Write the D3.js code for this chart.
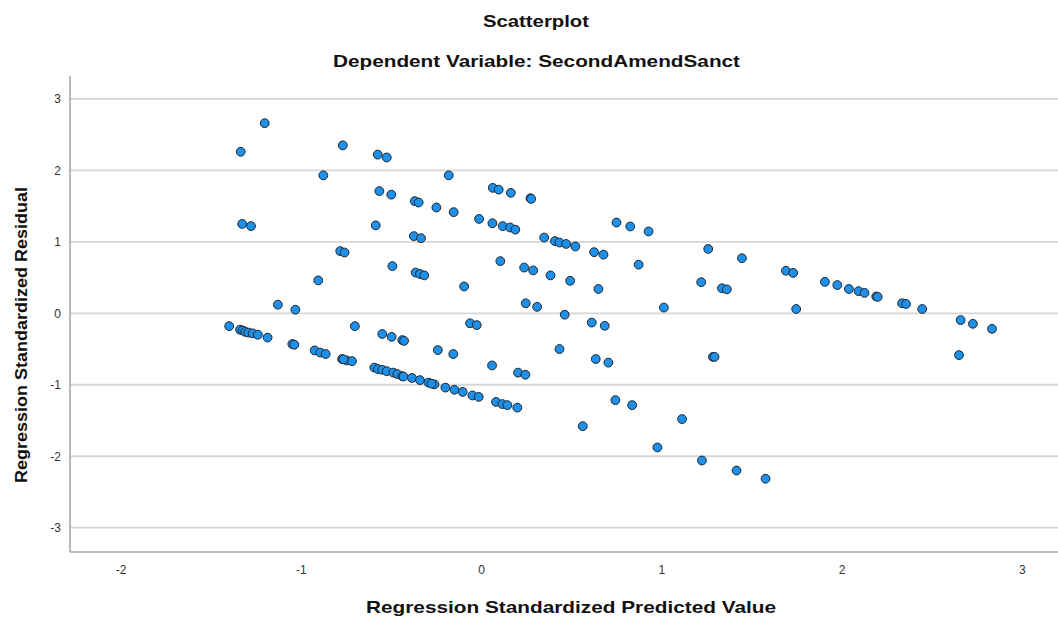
<!DOCTYPE html>
<html>
<head>
<meta charset="utf-8">
<script src="https://cdn.jsdelivr.net/npm/d3@7"></script>
<style>
  html, body { margin: 0; padding: 0; background: #fff; }
  svg { display: block; font-family: "Liberation Sans", Arial, sans-serif; }
</style>
</head>
<body>
<svg id="chart" width="1058" height="617"></svg>
<script>
// Regression standardized predicted values (x) and residuals (y)
const predicted = [
  -1.20, -1.333, -0.767, -0.875, -1.325, -1.276, -0.781, -0.757, -0.903, -1.127,
  -1.03, -1.397, -0.70, -1.337, -1.322, -1.308, -1.291, -1.267, -1.238, -1.184,
  -1.047, -1.036, -0.923, -0.892, -0.862, -0.771, -0.745, -0.716, -0.573, -0.523,
  -0.179, -0.564, -0.498, -0.368, -0.346, -0.248, -0.152, 0.065, 0.098, 0.165,
  0.274, 0.278, -0.584, -0.373, -0.333, -0.011, 0.063, 0.12, 0.161, 0.19,
  0.35, 0.41, 0.435, 0.472, 0.523, 0.627, 0.679, 0.751, 0.827, 0.929,
  0.874, -0.492, -0.363, -0.339, -0.315, -0.094, 0.107, 0.239, 0.289, 0.385,
  0.494, 0.651, 0.248, 0.311, 0.464, 0.614, 0.686, -0.061, -0.024, -0.548,
  -0.496, -0.437, -0.427, -0.24, -0.154, 0.061, 0.205, 0.246, 0.435, 0.636,
  0.706, 0.745, 0.838, 0.564, -0.592, -0.572, -0.549, -0.523, -0.487, -0.464,
  -0.437, -0.43, -0.383, -0.339, -0.292, -0.259, -0.198, -0.148, -0.102, -0.048,
  -0.013, 0.083, 0.118, 0.146, 0.201, 1.26, 1.447, 1.221, 1.336, 1.363,
  1.014, 1.691, 1.731, 1.748, 1.907, 1.976, 2.04, 2.094, 2.127, 2.192,
  2.20, 2.335, 2.357, 2.447, 2.66, 2.728, 2.834, 2.651, 1.286, 1.295,
  1.115, 0.978, 1.225, 1.417, 1.578, -0.275, -0.763
];
const residual = [
  2.66, 2.26, 2.35, 1.93, 1.25, 1.22, 0.87, 0.85, 0.46, 0.12,
  0.05, -0.18, -0.18, -0.23, -0.24, -0.26, -0.27, -0.28, -0.30, -0.34,
  -0.43, -0.44, -0.52, -0.55, -0.57, -0.64, -0.66, -0.67, 2.22, 2.18,
  1.93, 1.71, 1.66, 1.57, 1.55, 1.48, 1.415, 1.755, 1.73, 1.685,
  1.61, 1.60, 1.23, 1.08, 1.05, 1.32, 1.26, 1.22, 1.20, 1.17,
  1.06, 1.01, 0.99, 0.97, 0.935, 0.855, 0.82, 1.27, 1.215, 1.145,
  0.68, 0.66, 0.57, 0.55, 0.53, 0.375, 0.73, 0.64, 0.60, 0.53,
  0.455, 0.34, 0.14, 0.09, -0.02, -0.13, -0.175, -0.14, -0.165, -0.29,
  -0.33, -0.375, -0.385, -0.515, -0.57, -0.73, -0.83, -0.86, -0.50, -0.64,
  -0.69, -1.215, -1.285, -1.58, -0.76, -0.78, -0.79, -0.81, -0.83, -0.85,
  -0.88, -0.885, -0.905, -0.935, -0.97, -0.995, -1.04, -1.07, -1.10, -1.15,
  -1.17, -1.24, -1.27, -1.285, -1.32, 0.90, 0.77, 0.435, 0.35, 0.335,
  0.08, 0.595, 0.565, 0.06, 0.44, 0.395, 0.34, 0.31, 0.285, 0.235,
  0.23, 0.14, 0.13, 0.06, -0.095, -0.147, -0.217, -0.585, -0.61, -0.61,
  -1.48, -1.877, -2.06, -2.20, -2.315, -0.985, -0.645
];
const xTicks = [-2, -1, 0, 1, 2, 3];
const yTicks = [-3, -2, -1, 0, 1, 2, 3];

const titleText = "Scatterplot";
const subtitleText = "Dependent Variable: SecondAmendSanct";
const xLabel = "Regression Standardized Predicted Value";
const yLabel = "Regression Standardized Residual";

const svg = d3.select("#chart");
const plotLeft = 70, plotRight = 1058, plotTop = 76, plotBottom = 552;

const x = d3.scaleLinear().domain([-2.28, 3.2]).range([plotLeft, plotRight]);
const y = d3.scaleLinear().domain([-3.34, 3.32]).range([plotBottom, plotTop]);

// horizontal grid lines
svg.append("g")
  .selectAll("line")
  .data(yTicks)
  .join("line")
  .attr("x1", plotLeft).attr("x2", plotRight)
  .attr("y1", d => y(d)).attr("y2", d => y(d))
  .attr("stroke", "#d6d6d6")
  .attr("stroke-width", 1.8);

// axes (tick labels only, no tick marks); plain hyphen for negatives
const plain = d => String(d);
const xAxis = svg.append("g")
  .attr("transform", `translate(0,${plotBottom})`)
  .call(d3.axisBottom(x).tickValues(xTicks).tickSize(0).tickPadding(13).tickFormat(plain));
const yAxis = svg.append("g")
  .attr("transform", `translate(${plotLeft},0)`)
  .call(d3.axisLeft(y).tickValues(yTicks).tickSize(0).tickPadding(9).tickFormat(plain));
[xAxis, yAxis].forEach(g => {
  g.select(".domain").remove();
  g.selectAll("text")
    .attr("font-family", "'Liberation Sans', Arial, sans-serif")
    .attr("font-size", 12)
    .attr("fill", "#333");
});

// axis lines
svg.append("line")
  .attr("x1", plotLeft).attr("x2", plotLeft).attr("y1", plotTop).attr("y2", plotBottom)
  .attr("stroke", "#a8a8a8").attr("stroke-width", 1.6);
svg.append("line")
  .attr("x1", plotLeft).attr("x2", plotRight).attr("y1", plotBottom).attr("y2", plotBottom)
  .attr("stroke", "#a8a8a8").attr("stroke-width", 1.6);

// points
svg.append("g")
  .selectAll("circle")
  .data(d3.range(predicted.length))
  .join("circle")
  .attr("cx", i => x(predicted[i]))
  .attr("cy", i => y(residual[i]))
  .attr("r", 4.4)
  .attr("fill", "#1e90e8")
  .attr("stroke", "#1b2633")
  .attr("stroke-width", 1);

// titles
function label(text, tx, ty, width, size, rotate) {
  const t = svg.append("text")
    .attr("text-anchor", "middle")
    .attr("font-weight", "bold")
    .attr("font-size", size)
    .attr("fill", "#111")
    .attr("textLength", width)
    .attr("lengthAdjust", "spacingAndGlyphs")
    .text(text);
  if (rotate) {
    t.attr("transform", `translate(${tx},${ty}) rotate(-90)`);
  } else {
    t.attr("x", tx).attr("y", ty);
  }
}
label(titleText, 536, 27, 106, 17);
label(subtitleText, 536.5, 67, 407, 17);
label(xLabel, 571, 613, 410, 17);
label(yLabel, 27, 335, 296, 17, true);
</script>
</body>
</html>
